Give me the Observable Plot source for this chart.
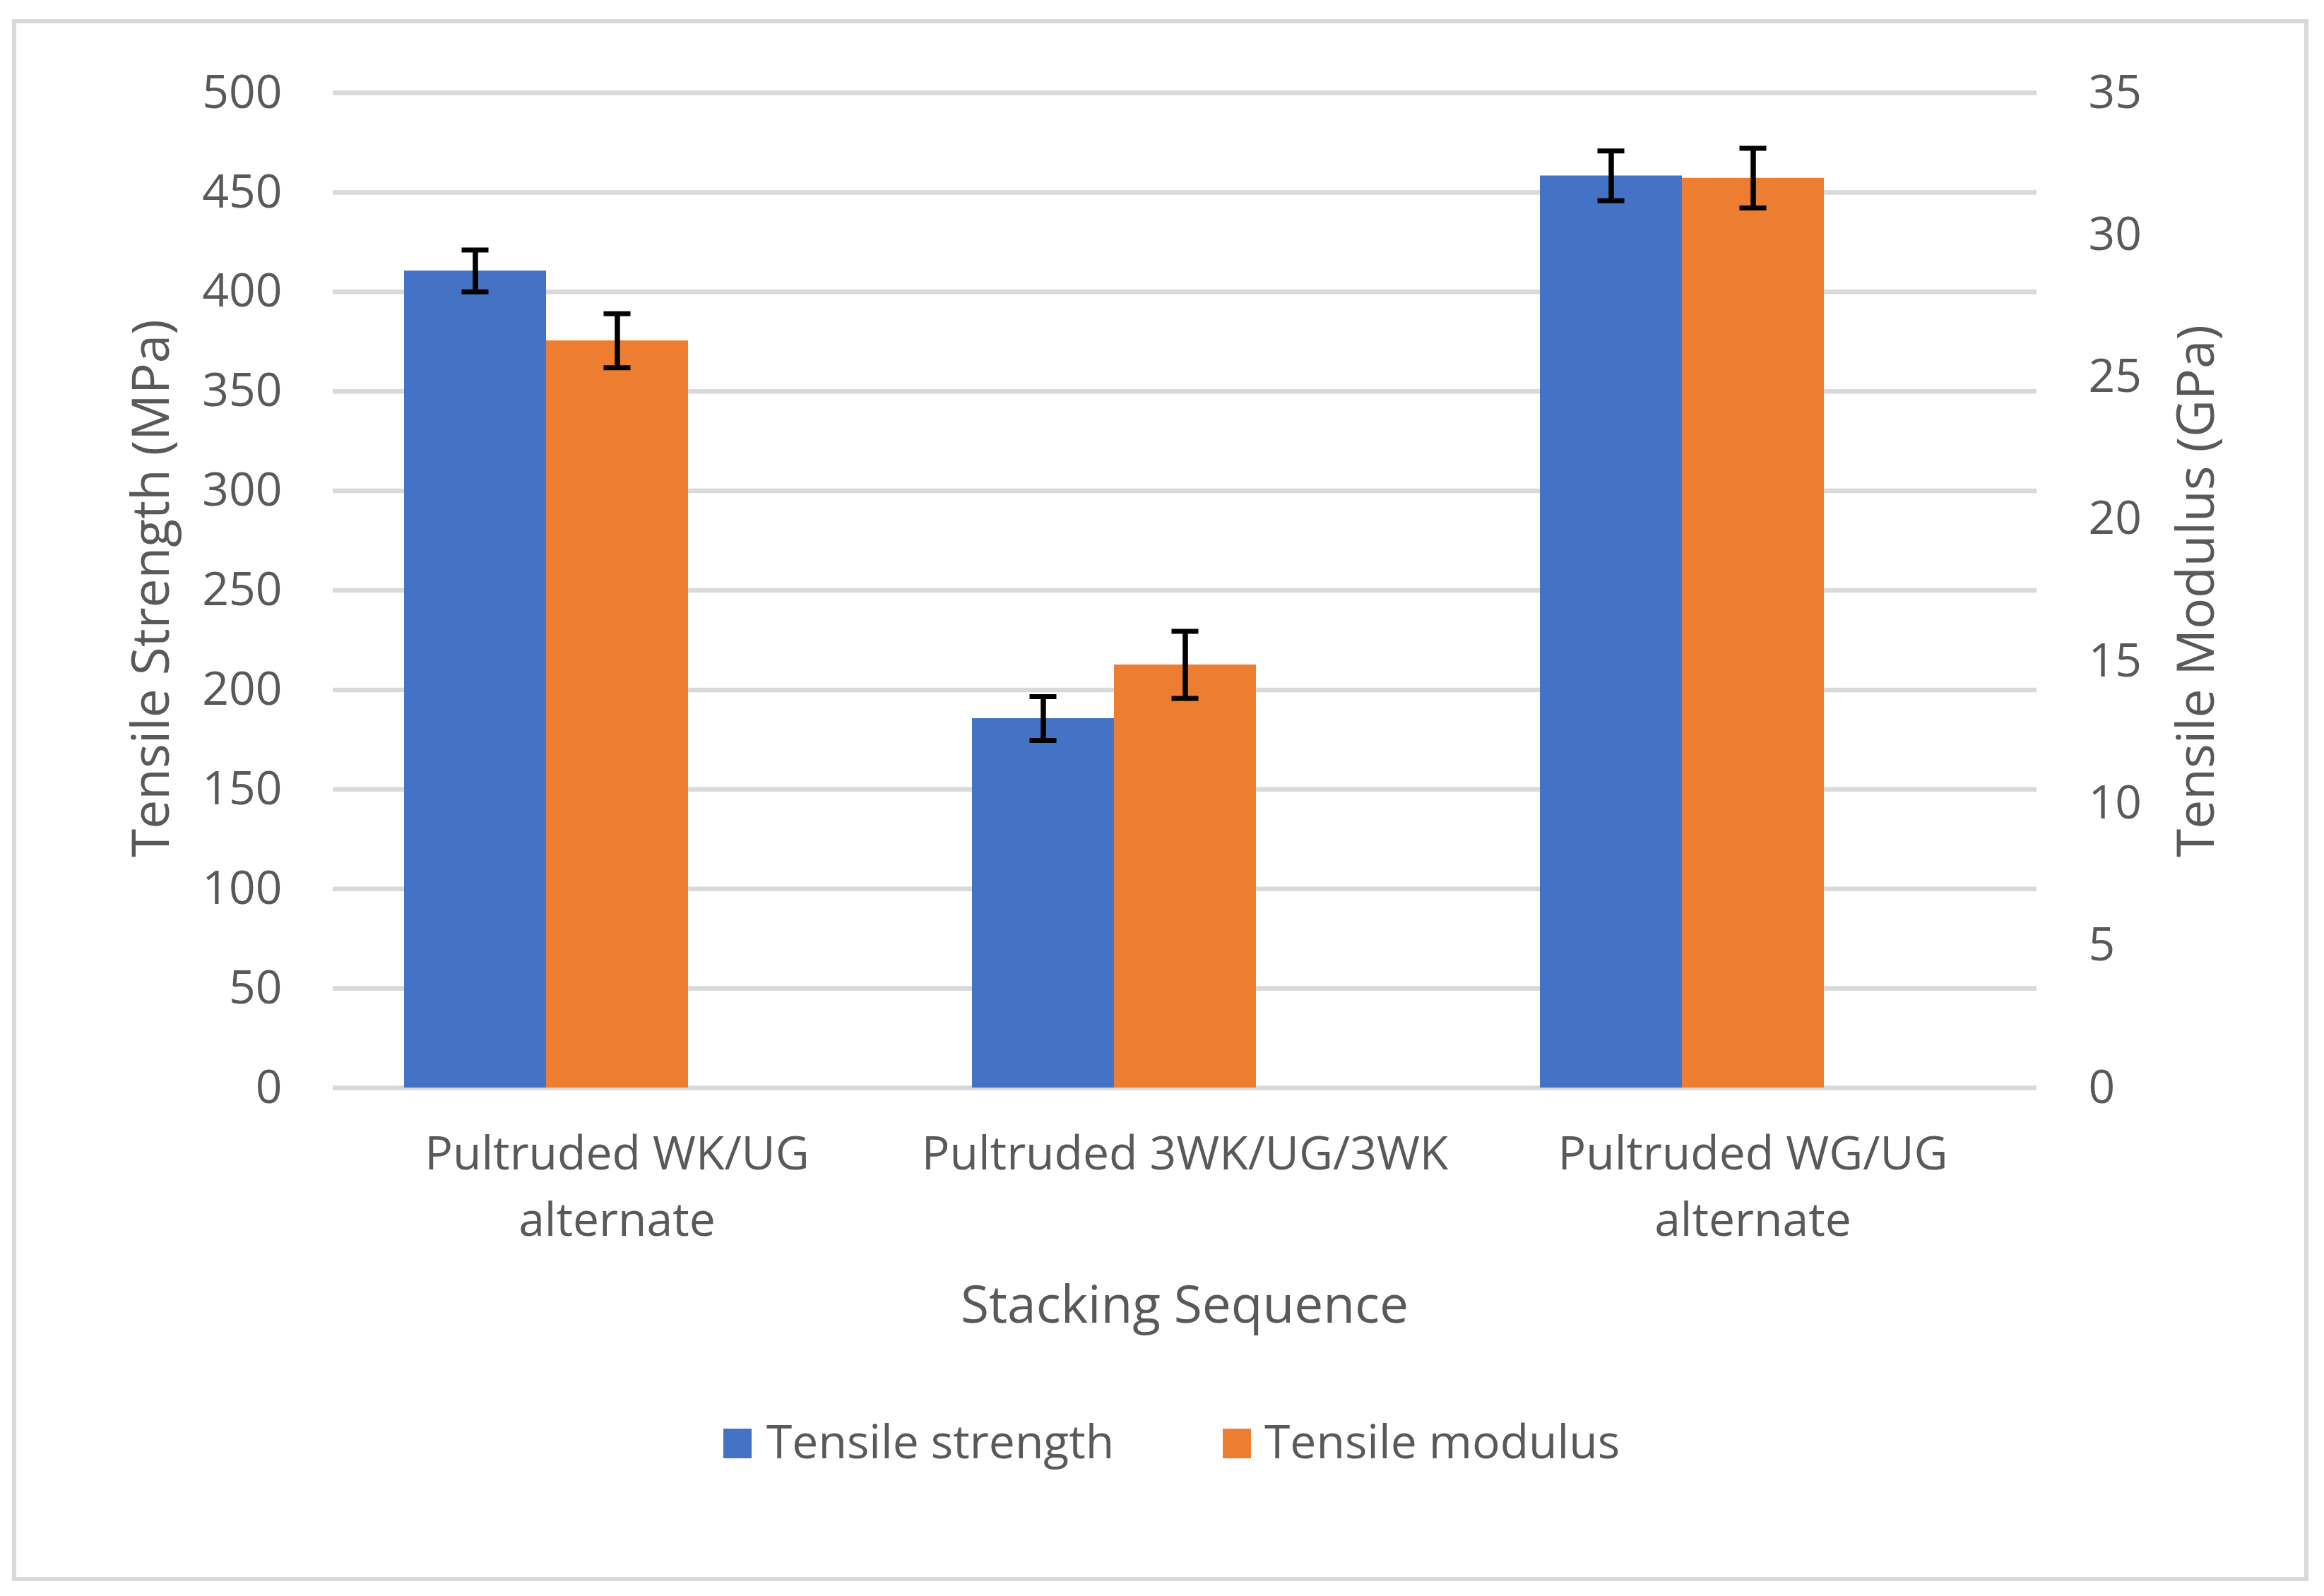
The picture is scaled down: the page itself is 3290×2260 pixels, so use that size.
<!DOCTYPE html>
<html>
<head>
<meta charset="utf-8">
<script src="https://cdn.jsdelivr.net/npm/d3@7"></script>
<script src="https://cdn.jsdelivr.net/npm/@observablehq/plot@0.6"></script>
<style>
  html, body { margin: 0; padding: 0; background: #fff; }
  #wrap { position: relative; width: 3290px; height: 2260px; font-family: "Open Sans", sans-serif; color: #595959; overflow: hidden; }
  #border { position: absolute; left: 17px; top: 27px; width: 3251px; height: 2212px; border: 6px solid #d9d9d9; box-sizing: border-box; }
  #chart { position: absolute; left: 0; top: 0; }
  .title { position: absolute; white-space: nowrap; line-height: 1; font-size: 73px; }
  .rot { transform: translate(-50%, -50%) rotate(-90deg); }
  .legend-item { position: absolute; line-height: 1; font-size: 66px; white-space: nowrap; }
  .swatch { position: absolute; width: 40px; height: 42px; }
</style>
</head>
<body>
<div id="wrap">
  <div id="border"></div>
  <div id="chart"></div>
</div>
<script>
// ---- data ----
const categories = ["Pultruded WK/UG alternate", "Pultruded 3WK/UG/3WK", "Pultruded WG/UG alternate"];
const categoryLabels = ["Pultruded WK/UG\nalternate", "Pultruded 3WK/UG/3WK", "Pultruded WG/UG\nalternate"];
const seriesNames = ["Tensile strength", "Tensile modulus"];
const seriesColors = ["#4472C4", "#ED7D31"];
const strength = [410.5, 185.6, 458.3];      // MPa
const strengthErr = [10.5, 11.0, 12.5];      // MPa
const modulus = [26.28, 14.88, 32.0];        // GPa
const modulusErr = [0.95, 1.18, 1.05];       // GPa
const leftTicks = [0, 50, 100, 150, 200, 250, 300, 350, 400, 450, 500];
const rightTicks = [0, 5, 10, 15, 20, 25, 30, 35];
const leftMax = 500, rightMax = 35;
const leftTitle = "Tensile Strength (MPa)";
const rightTitle = "Tensile Modulus (GPa)";
const xTitle = "Stacking Sequence";

// secondary-axis values mapped onto the primary (MPa) scale
const toLeft = v => v * leftMax / rightMax;

const rows = categories.flatMap((c, i) => [
  {category: c, series: seriesNames[0], value: strength[i], lo: strength[i] - strengthErr[i], hi: strength[i] + strengthErr[i]},
  {category: c, series: seriesNames[1], value: toLeft(modulus[i]), lo: toLeft(modulus[i] - modulusErr[i]), hi: toLeft(modulus[i] + modulusErr[i])}
]);

const chart = Plot.plot({
  width: 3290,
  height: 2260,
  marginLeft: 470,
  marginRight: 406,
  marginTop: 131,
  marginBottom: 720,
  style: {fontFamily: '"Open Sans", sans-serif', color: "#595959", background: "transparent", overflow: "visible"},
  fx: {domain: categories, padding: 0, label: null},
  x: {domain: [...seriesNames, "(empty)"], paddingInner: 0, paddingOuter: 0.5, axis: null},
  y: {domain: [0, leftMax], label: null},
  color: {domain: seriesNames, range: seriesColors},
  marks: [
    Plot.ruleY(leftTicks, {stroke: "#d9d9d9", strokeWidth: 6.5}),
    Plot.barY(rows, {fx: "category", x: "series", y: "value", fill: "series"}),
    Plot.ruleX(rows, {fx: "category", x: "series", y1: "lo", y2: "hi", stroke: "#000", strokeWidth: 7.5}),
    Plot.tickY(rows, {fx: "category", x: "series", y: "lo", stroke: "#000", strokeWidth: 7, insetLeft: 81.5, insetRight: 81.5}),
    Plot.tickY(rows, {fx: "category", x: "series", y: "hi", stroke: "#000", strokeWidth: 7, insetLeft: 81.5, insetRight: 81.5}),
    Plot.axisY(leftTicks, {anchor: "left", tickSize: 0, tickPadding: 72, fontSize: 66, label: null}),
    Plot.axisY(rightTicks.map(toLeft), {anchor: "right", tickSize: 0, tickPadding: 73, fontSize: 66, label: null,
      tickFormat: d => String(Math.round(d * rightMax / leftMax))}),
    Plot.axisFx({anchor: "bottom", tickSize: 0, tickPadding: 49, fontSize: 66, lineHeight: 1.42, label: null,
      tickFormat: d => categoryLabels[categories.indexOf(d)]})
  ]
});
document.getElementById("chart").appendChild(chart);

// ---- titles and legend (outside the SVG plot area) ----
const wrap = document.getElementById("wrap");
function addDiv(cls, text, css) {
  const el = document.createElement("div");
  el.className = cls;
  el.textContent = text;
  Object.assign(el.style, css);
  wrap.appendChild(el);
  return el;
}
addDiv("title rot", leftTitle, {left: "210px", top: "833px"});
addDiv("title rot", rightTitle, {left: "3105px", top: "837px"});
addDiv("title", xTitle, {left: "1677px", top: "1808px", transform: "translateX(-50%)"});

const legendX = [[1024, 1085], [1731, 1790]];
seriesNames.forEach((name, i) => {
  addDiv("swatch", "", {left: legendX[i][0] + "px", top: "2023px", background: seriesColors[i]});
  addDiv("legend-item", name, {left: legendX[i][1] + "px", top: "2006px"});
});
</script>
</body>
</html>
